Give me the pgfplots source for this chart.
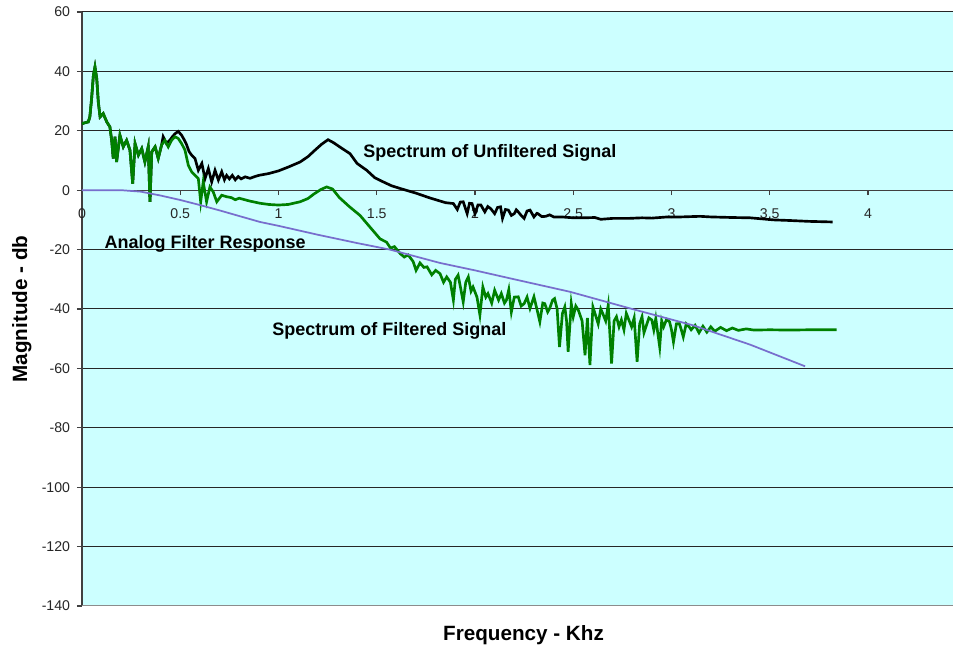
\documentclass[border=0pt]{standalone}
\usepackage{fontspec}
\setmainfont{Liberation Sans}
\usepackage{pgfplots}
\pgfplotsset{compat=1.18}
\definecolor{plotbg}{RGB}{204,255,255}
\definecolor{filtgreen}{RGB}{0,128,0}
\definecolor{filtblue}{RGB}{120,110,205}
\begin{document}
\begin{tikzpicture}
\begin{axis}[
    at={(0,0)}, anchor=south west,
    width=653.25pt, height=445.5pt, scale only axis,
    xmin=0, xmax=4.4326, ymin=-140, ymax=60,
    axis background/.style={fill=plotbg},
    axis x line=middle, axis y line=left,
    axis line style={-},
    hide obscured x ticks=false,
    x axis line style={black!75, line width=0.8pt},
    y axis line style={black!75, line width=1.1pt},
    xtick={0,0.5,1,1.5,2,2.5,3,3.5,4},
    xticklabels={0,0.5,1,1.5,2,2.5,3,3.5,4},
    ytick={-140,-120,-100,-80,-60,-40,-20,0,20,40,60},
    yticklabels={-140,-120,-100,-80,-60,-40,-20,0,20,40,60},
    tick align=outside, major tick length=3.75pt,
    tick style={black!75, line width=0.8pt},
    ymajorgrids=true,
    grid style={black!85, line width=0.75pt},
    ticklabel style={font=\fontsize{10.6}{12}\selectfont, text=black!85},
    xticklabel style={anchor=north, inner sep=0pt, yshift=-10pt},
    yticklabel style={anchor=east, inner sep=0pt, xshift=-5pt},
    xlabel={Frequency - Khz},
    ylabel={Magnitude - db},
    label style={font=\fontsize{15.5}{18}\selectfont\bfseries},
    xlabel style={at={(axis description cs:0.5069,-0.0589)}, anchor=base, inner sep=0pt},
    ylabel style={at={(axis description cs:-0.0631,0.5)}, anchor=base, rotate=0, inner sep=0pt},
]
% unfiltered spectrum (black)
\addplot[black, line width=2pt] coordinates {
(0,22.4) (0.02,22.8) (0.032,23) (0.04,24.7) (0.049,30.9) (0.058,38.7) (0.066,41.5) (0.075,37.6)
(0.083,29.7) (0.092,24.7) (0.108,25.8) (0.126,23) (0.142,21.3) (0.151,16.8) (0.159,10.7) (0.168,18)
(0.176,9.5) (0.193,18.5) (0.21,14.6) (0.227,16.8) (0.244,13.5) (0.258,2.2) (0.27,15.7) (0.287,11.8)
(0.304,14) (0.32,9.5) (0.337,14.6) (0.346,-3.9) (0.355,12.9) (0.372,14.6) (0.388,10.7) (0.405,15.2)
(0.413,18) (0.43,15.7) (0.447,16.8) (0.46,18) (0.473,19) (0.49,19.8) (0.507,18.5) (0.52,17)
(0.53,15.7) (0.545,13) (0.558,11.8) (0.575,10.7) (0.592,6.7) (0.61,9) (0.626,3.9) (0.643,7.3)
(0.66,2.8) (0.677,6.7) (0.694,3.4) (0.711,6.2) (0.725,3.5) (0.736,5) (0.75,3.8) (0.765,5)
(0.78,3.5) (0.795,4.6) (0.81,3.8) (0.83,4.5) (0.855,4) (0.88,4.6) (0.9,5) (0.95,5.6)
(1.0,6.5) (1.05,7.8) (1.11,9.5) (1.15,11.3) (1.186,13.5) (1.22,15.5) (1.252,17) (1.28,16)
(1.32,14.2) (1.364,12.3) (1.40,9) (1.449,6.7) (1.49,4.2) (1.533,2.8) (1.575,1.5) (1.618,0.6)
(1.70,-1) (1.77,-2.6) (1.85,-4.2) (1.89,-4.5) (1.91,-6.5) (1.925,-4) (1.94,-3.9) (1.96,-7.9)
(1.972,-4.4) (1.985,-4.5) (2.0,-7.9) (2.015,-5) (2.03,-5) (2.05,-7.3) (2.065,-5.5) (2.08,-6.2)
(2.1,-7.9) (2.115,-5.8) (2.13,-5.6) (2.14,-9.5) (2.155,-6.5) (2.17,-6.7) (2.185,-8.5) (2.2,-7.9)
(2.21,-6.6) (2.22,-7.3) (2.235,-8.5) (2.25,-9.5) (2.265,-7) (2.28,-6.7) (2.3,-9) (2.315,-7.8)
(2.32,-7.9) (2.34,-8.9) (2.36,-8.8) (2.38,-8.3) (2.4,-9) (2.44,-9) (2.5,-9.3) (2.55,-9.3)
(2.61,-9.2) (2.64,-9.8) (2.7,-9.5) (2.78,-9.5) (2.85,-9.3) (2.9,-9.4) (2.98,-9) (3.05,-9)
(3.145,-8.8) (3.2,-9) (3.31,-9.2) (3.4,-9.3) (3.52,-10) (3.6,-10.2) (3.7,-10.5) (3.82,-10.7)
};
% filtered spectrum (green)
\addplot[filtgreen, line width=2pt] coordinates {
(0,22.4) (0.02,22.8) (0.032,23) (0.04,24.7) (0.049,30.9) (0.058,38.7) (0.066,41.5) (0.075,37.6)
(0.083,29.7) (0.092,24.7) (0.108,25.8) (0.126,23) (0.142,21.3) (0.151,16.8) (0.159,10.7) (0.168,18)
(0.176,9.5) (0.193,18.5) (0.21,14.6) (0.227,16.8) (0.244,13.5) (0.258,2.2) (0.27,15.7) (0.287,11.8)
(0.304,14) (0.32,9.5) (0.337,14.6) (0.346,-3.9) (0.355,12.9) (0.372,14.6) (0.388,10.7) (0.405,15.2)
(0.422,16.8) (0.439,14.6) (0.456,16.8) (0.473,18) (0.49,17.4) (0.507,15.7) (0.524,13.5) (0.541,8.4)
(0.558,6.2) (0.575,5) (0.592,3.9) (0.604,-3.9) (0.617,2.8) (0.634,-3.9) (0.651,1.1) (0.668,-0.6)
(0.686,-3.9) (0.711,-1.7) (0.736,-2.2) (0.76,-2.5) (0.78,-3.2) (0.8,-2.7) (0.85,-3.6) (0.906,-4.4)
(0.95,-4.8) (1.0,-5) (1.05,-4.8) (1.11,-3.9) (1.15,-2.8) (1.18,-1.3) (1.215,0.2) (1.245,1.1)
(1.275,0.4) (1.31,-2.5) (1.36,-5.5) (1.415,-8.5) (1.46,-12) (1.517,-16.4) (1.55,-17.5) (1.57,-19.5)
(1.59,-19) (1.62,-21.4) (1.64,-22.5) (1.66,-21.8) (1.685,-24) (1.70,-27) (1.72,-24.5) (1.74,-26)
(1.756,-25.8) (1.78,-28.5) (1.80,-27) (1.822,-28.1) (1.84,-31) (1.856,-29.2) (1.875,-31) (1.89,-37)
(1.90,-30) (1.914,-28.6) (1.927,-33) (1.94,-37.6) (1.953,-31) (1.966,-29.2) (1.98,-34) (1.99,-32.6)
(2.01,-36) (2.025,-42) (2.04,-32.6) (2.055,-36) (2.066,-34.8) (2.085,-38) (2.10,-33.7) (2.12,-37)
(2.134,-34.8) (2.15,-38) (2.16,-37) (2.172,-33.5) (2.185,-41) (2.20,-36) (2.22,-35.9) (2.235,-39)
(2.25,-38.2) (2.265,-36) (2.28,-39.8) (2.30,-35.9) (2.315,-40) (2.33,-44.3) (2.345,-38) (2.355,-38.2)
(2.37,-41) (2.38,-39.8) (2.395,-37) (2.405,-36.5) (2.418,-40) (2.43,-52.8) (2.445,-41.5) (2.457,-39.3)
(2.466,-44) (2.474,-54.4) (2.49,-38.2) (2.50,-42.6) (2.513,-39) (2.526,-40.4) (2.545,-44) (2.56,-55.6)
(2.572,-43) (2.585,-58.9) (2.60,-39.3) (2.613,-42) (2.627,-45) (2.64,-40) (2.65,-41.5) (2.665,-44)
(2.678,-38.7) (2.695,-58.4) (2.708,-44) (2.72,-42.6) (2.733,-46) (2.745,-43.7) (2.758,-47) (2.77,-41.5)
(2.785,-44) (2.797,-46) (2.81,-43) (2.825,-57.8) (2.838,-45) (2.85,-42.6) (2.86,-48) (2.87,-46)
(2.885,-43) (2.90,-43.7) (2.91,-47) (2.92,-43.2) (2.94,-52.8) (2.95,-44) (2.96,-46) (2.975,-43.5)
(2.99,-44.3) (3.00,-47) (3.01,-51.1) (3.025,-45) (3.04,-44.9) (3.05,-47) (3.06,-49.4) (3.075,-45)
(3.09,-46) (3.10,-47) (3.12,-45.5) (3.14,-48) (3.16,-45.8) (3.18,-47.8) (3.20,-46) (3.22,-47.5)
(3.25,-46.2) (3.28,-47.3) (3.31,-46.4) (3.34,-47.2) (3.38,-46.7) (3.42,-47.1) (3.5,-47) (3.6,-47.1)
(3.7,-47) (3.84,-47)
};
% analog filter response (blue)
\addplot[filtblue, line width=1.3pt] coordinates {
(0,0) (0.1,0) (0.2,0) (0.3,-0.5) (0.4,-1.8) (0.5,-3.3) (0.6,-5) (0.7,-6.8) (0.8,-8.7)
(0.906,-10.7) (1.0,-12) (1.2,-15) (1.4,-17.8) (1.567,-20) (1.822,-24.5) (2.0,-27) (2.2,-30)
(2.483,-34.2) (2.8,-40) (3.11,-45.5) (3.4,-52) (3.68,-59.3)
};
\draw[black!45, line width=1pt] (axis cs:0,-140) -- (axis cs:4.4326,-140);
\node[anchor=base west, inner sep=0pt, font=\fontsize{13.5}{16}\selectfont\bfseries]
  at (axis cs:1.430,10.9) {Spectrum of Unfiltered Signal};
\node[anchor=base west, inner sep=0pt, font=\fontsize{13.5}{16}\selectfont\bfseries]
  at (axis cs:0.1135,-19.8) {Analog Filter Response};
\node[anchor=base west, inner sep=0pt, font=\fontsize{13.5}{16}\selectfont\bfseries]
  at (axis cs:0.967,-48.8) {Spectrum of Filtered Signal};
\end{axis}
\pgfresetboundingbox
\path[use as bounding box] (-61.5pt,-32.25pt) rectangle (654pt,454.5pt);
\end{tikzpicture}
\end{document}
